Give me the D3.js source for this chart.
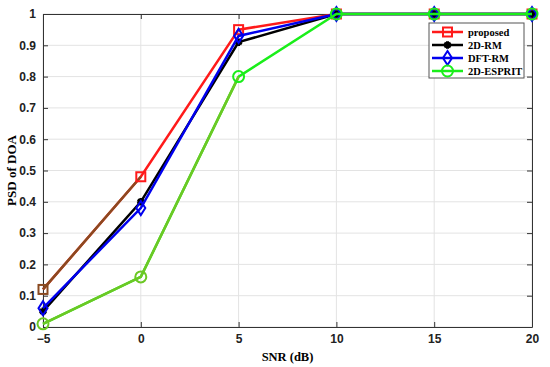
<!DOCTYPE html>
<html>
<head>
<meta charset="utf-8">
<script src="https://cdn.jsdelivr.net/npm/d3@7"></script>
<style>
  body { margin: 0; background: #fff; }
  svg { display: block; }
</style>
</head>
<body>
<svg></svg>
<script>
const width = 550;
const height = 367;

// data
const snr = [-5, 0, 5, 10, 15, 20];
const proposed = [0.12, 0.48, 0.95, 1, 1, 1];
const rm2d = [0.05, 0.40, 0.91, 1, 1, 1];
const dftRm = [0.06, 0.38, 0.93, 1, 1, 1];
const esprit = [0.01, 0.16, 0.80, 1, 1, 1];
const xTicks = [-5, 0, 5, 10, 15, 20];
const yTicks = [0, 0.1, 0.2, 0.3, 0.4, 0.5, 0.6, 0.7, 0.8, 0.9, 1];

const margin = {left: 43, right: 18, top: 14, bottom: 40};

let svg = d3.select("svg")
    .attr("width", width)
    .attr("height", height);

const x = d3.scaleLinear().domain([-5, 20]).range([margin.left, width - margin.right]);
const y = d3.scaleLinear().domain([0, 1]).range([height - margin.bottom, margin.top]);

const tickFont = "'Liberation Sans', Arial, sans-serif";
const serif = "'Liberation Serif', 'Times New Roman', serif";

// grid
svg.append("g").selectAll("line").data(xTicks).join("line")
    .attr("x1", d => x(d)).attr("x2", d => x(d))
    .attr("y1", y(0)).attr("y2", y(1))
    .attr("stroke", "#e3e3e3").attr("stroke-width", 1);
svg.append("g").selectAll("line").data(yTicks).join("line")
    .attr("x1", x(-5)).attr("x2", x(20))
    .attr("y1", d => y(d)).attr("y2", d => y(d))
    .attr("stroke", "#e3e3e3").attr("stroke-width", 1);

// axes
let xAxis = svg.append("g")
    .attr("transform", `translate(0,${y(0)})`)
    .call(d3.axisBottom(x).tickValues(xTicks).tickSizeInner(-5).tickSizeOuter(0)
        .tickFormat(d => d < 0 ? "\u2212" + Math.abs(d) : d));
let yAxis = svg.append("g")
    .attr("transform", `translate(${x(-5)},0)`)
    .call(d3.axisLeft(y).tickValues(yTicks).tickSizeInner(-5).tickSizeOuter(0)
        .tickFormat(d => d === 0 ? "0" : d === 1 ? "1" : d3.format(".1f")(d)));
let xTop = svg.append("g")
    .attr("transform", `translate(0,${y(1)})`)
    .call(d3.axisTop(x).tickValues(xTicks).tickSizeInner(-5).tickSizeOuter(0).tickFormat(""));
let yRight = svg.append("g")
    .attr("transform", `translate(${x(20)},0)`)
    .call(d3.axisRight(y).tickValues(yTicks).tickSizeInner(-5).tickSizeOuter(0).tickFormat(""));

[xAxis, yAxis, xTop, yRight].forEach(a => {
    a.select(".domain").attr("stroke", "#333").attr("stroke-width", 1);
    a.selectAll(".tick line").attr("stroke", "#333");
});
xAxis.selectAll("text")
    .attr("dy", "1.1em")
    .style("font-family", tickFont).style("font-size", "12px").style("font-weight", "bold").attr("fill", "#222");
yAxis.selectAll("text")
    .attr("x", -7)
    .style("font-family", tickFont).style("font-size", "12px").style("font-weight", "bold").attr("fill", "#222");

// axis labels
svg.append("text")
    .attr("x", (x(-5) + x(20)) / 2).attr("y", 361)
    .attr("text-anchor", "middle")
    .style("font-family", serif).style("font-size", "12.5px").style("font-weight", "bold")
    .text("SNR (dB)");
svg.append("text")
    .attr("transform", `translate(16,${(y(0) + y(1)) / 2}) rotate(-90)`)
    .attr("text-anchor", "middle")
    .style("font-family", serif).style("font-size", "13px").style("font-weight", "bold")
    .text("PSD of DOA");

// series
const series = [
    {name: "proposed", values: proposed, color: "#ff1a1a", first: "#8a4a20", symbol: "square"},
    {name: "2D-RM", values: rm2d, color: "#000000", first: null, symbol: "star"},
    {name: "DFT-RM", values: dftRm, color: "#0000ee", first: null, symbol: "diamond"},
    {name: "2D-ESPRIT", values: esprit, color: "#1aee1a", first: "#6cc824", symbol: "circle"}
];

const line = d3.line().x(d => x(d[0])).y(d => y(d[1]));

function drawMarker(g, sym, cx, cy, color) {
    if (sym === "square") {
        g.append("rect").attr("x", cx - 4.5).attr("y", cy - 4.5).attr("width", 9).attr("height", 9)
            .attr("fill", "none").attr("stroke", color).attr("stroke-width", 2);
    } else if (sym === "circle") {
        g.append("circle").attr("cx", cx).attr("cy", cy).attr("r", 5.5)
            .attr("fill", "none").attr("stroke", color).attr("stroke-width", 2);
    } else if (sym === "diamond") {
        g.append("path").attr("d", `M${cx},${cy - 7}L${cx + 4.5},${cy}L${cx},${cy + 7}L${cx - 4.5},${cy}Z`)
            .attr("fill", "none").attr("stroke", color).attr("stroke-width", 2);
    } else {
        g.append("path").attr("d", d3.symbol(d3.symbolAsterisk, 40)())
            .attr("transform", `translate(${cx},${cy})`)
            .attr("fill", "none").attr("stroke", color).attr("stroke-width", 3);
        g.append("circle").attr("cx", cx).attr("cy", cy).attr("r", 2.5).attr("fill", color);
    }
}

series.forEach(s => {
    let g = svg.append("g");
    const pts = snr.map((v, i) => [v, s.values[i]]);
    g.append("path").attr("d", line(pts))
        .attr("fill", "none").attr("stroke", s.color).attr("stroke-width", 2.5);
    if (s.first) {
        const n = s.name === "2D-ESPRIT" ? 3 : 2;
        g.append("path").attr("d", line(pts.slice(0, n)))
            .attr("fill", "none").attr("stroke", s.first).attr("stroke-width", 2.5);
    }
    pts.forEach((p, i) => {
        const c = (s.first && (i === 0 || (s.name === "2D-ESPRIT" && i === 1))) ? s.first : s.color;
        drawMarker(g, s.symbol, x(p[0]), y(p[1]), c);
    });
});

// legend
let legend = svg.append("g").attr("transform", "translate(429,23)");
legend.append("rect").attr("width", 95).attr("height", 55)
    .attr("fill", "#fff").attr("stroke", "#555").attr("stroke-width", 1);
series.forEach((s, i) => {
    const ly = 9 + i * 13;
    legend.append("line").attr("x1", 3).attr("x2", 34).attr("y1", ly).attr("y2", ly)
        .attr("stroke", s.color).attr("stroke-width", 2.5);
    drawMarker(legend, s.symbol, 18.5, ly, s.color);
    legend.append("text").attr("x", 39).attr("y", ly + 3.5)
        .style("font-family", serif).style("font-size", "10.5px").style("font-weight", "bold")
        .text(s.name);
});
</script>
</body>
</html>
